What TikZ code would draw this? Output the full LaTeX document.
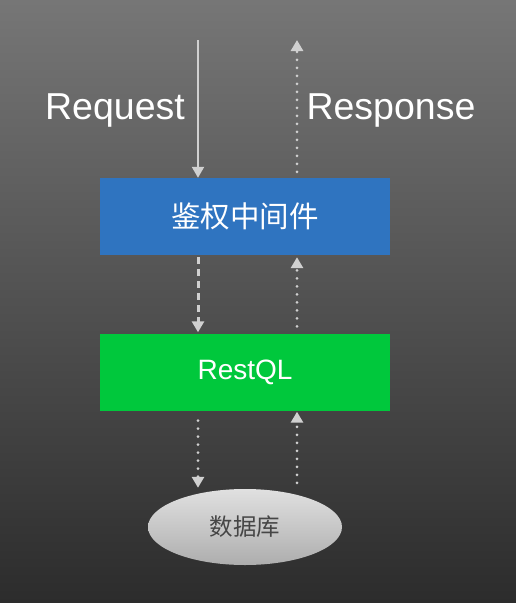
\documentclass[tikz,border=0pt]{standalone}
\usepackage{fontspec}
\setmainfont{Liberation Sans}
\newfontfamily\cjk{Noto Sans CJK SC}
\usepackage{tikz}
\usetikzlibrary{shapes,arrows.meta,positioning,calc}
\definecolor{bgtop}{RGB}{118,118,118}
\definecolor{bgbot}{RGB}{44,44,44}
\definecolor{authblue}{RGB}{47,116,192}
\definecolor{restgreen}{RGB}{0,200,60}
\definecolor{flowgray}{RGB}{208,208,208}
\definecolor{dbtext}{RGB}{70,70,70}

\tikzset{
    layer/.style={draw=none, rectangle, minimum width=290pt, minimum height=77pt, text=white},
    flowlabel/.style={text=white, font=\fontsize{37.5}{42}\selectfont},
    flow/.style={draw=flowgray, line width=2.2pt, -{Triangle[width=12pt,length=11pt]}, flowgray},
    dotflow/.style={flow, dash pattern=on 0pt off 8pt, line cap=round, line width=3pt},
    dashflow/.style={flow, dash pattern=on 7pt off 5pt, line width=3pt}
}

\begin{document}
\begin{tikzpicture}[x=1pt, y=-1pt]
    % background
    \shade [top color=bgtop, bottom color=bgbot] (0,0) rectangle (516,603);
    \useasboundingbox (0,0) rectangle (516,603);

    \node [layer, fill=authblue, font=\fontsize{29.5}{34}\selectfont] (auth) at (245,216.5) {\cjk 鉴权中间件};
    \node [layer, fill=restgreen, font=\fontsize{28}{32}\selectfont] (restql) at (245,372) {RestQL};
    \node [ellipse, minimum width=194pt, minimum height=76pt, inner sep=0pt,
           top color=white!88!black, bottom color=white!68!black,
           text=dbtext, font=\fontsize{23.5}{27}\selectfont] (db) at (245,527) {\cjk 数据库};

    \node [flowlabel] (request) at (115,110) {Request};
    \node [flowlabel] (response) at (391,110) {Response};

    \coordinate (reqtop) at (198,40);
    \coordinate (resptop) at (297,40);

    % request goes down
    \draw [flow] (reqtop) -- (reqtop |- auth.north);
    \draw [dashflow] ($(auth.south -| reqtop)+(0,2)$) -- ($(restql.north -| reqtop)+(0,-1)$);
    \draw [dotflow] ($(restql.south -| reqtop)+(0,10)$) -- ($(db.north -| reqtop)+(0,-1)$);

    % response goes up
    \draw [dotflow] ($(db.north -| resptop)+(0,-6)$) -- ($(restql.south -| resptop)+(0,1)$);
    \draw [dotflow] ($(restql.north -| resptop)+(0,-7)$) -- ($(auth.south -| resptop)+(0,2)$);
    \draw [dotflow] ($(auth.north -| resptop)+(0,-6)$) -- (resptop);
\end{tikzpicture}
\end{document}
